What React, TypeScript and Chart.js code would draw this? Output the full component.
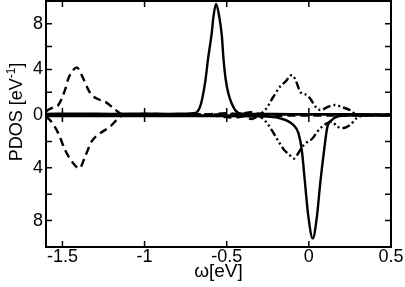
import { useEffect, useRef } from 'react';
import { Chart, registerables } from 'chart.js';

Chart.register(...registerables);

// ---- axis ticks ----
const X_TICKS = [-1.5, -1, -0.5, 0, 0.5];
const X_TICK_LABELS = ['-1.5', '-1', '-0.5', '0', '0.5'];
const Y_TOP_LABELS = [0, 4, 8];
const Y_BOT_LABELS = [4, 8];
const Y_MINOR = [2, 4, 6, 8];

// ---- spin-up (upper panel) ----
const solidUpX = [-1.6, -1.4, -1.2, -1.0, -0.85, -0.75, -0.703, -0.662, -0.632, -0.612, -0.591, -0.581, -0.565, -0.545, -0.53, -0.52, -0.507, -0.49, -0.449, -0.408, -0.3, -0.1, 0.1, 0.3, 0.5];
const solidUpY = [0.1, 0.12, 0.1, 0.12, 0.1, 0.12, 0.15, 0.73, 2.8, 5.1, 7.2, 8.6, 9.75, 8.6, 7.0, 5.0, 3.2, 1.9, 0.44, 0.12, 0.1, 0.08, 0.08, 0.06, 0.05];

const dashUpX = [-1.6, -1.58, -1.55, -1.525, -1.484, -1.464, -1.434, -1.413, -1.383, -1.342, -1.322, -1.281, -1.241, -1.2, -1.149, -1.12, -1.0, -0.8, -0.6, -0.5, -0.42, -0.35, -0.3, -0.2, 0.0, 0.3, 0.5];
const dashUpY = [0.3, 0.5, 0.7, 0.88, 2.2, 3.2, 3.95, 4.18, 3.5, 2.2, 1.75, 1.38, 1.17, 0.73, 0.15, 0.05, 0.1, 0.05, 0.08, 0.15, 0.1, 0.25, 0.1, 0.05, 0.05, 0.03, 0.02];

const ddotUpX = [-1.6, -1.0, -0.5, -0.3, -0.266, -0.216, -0.175, -0.144, -0.104, -0.085, -0.053, -0.035, -0.01, 0.01, 0.04, 0.07, 0.12, 0.16, 0.2, 0.25, 0.29, 0.35, 0.5];
const ddotUpY = [0.03, 0.03, 0.05, 0.1, 0.44, 1.6, 2.5, 2.9, 3.5, 3.2, 2.05, 1.85, 1.75, 1.4, 0.73, 0.44, 0.73, 0.88, 0.7, 0.44, 0.05, 0.02, 0.02];

// ---- spin-down (lower panel, plotted downward) ----
const solidDnX = [-1.6, -1.2, -0.8, -0.5, -0.3, -0.25, -0.175, -0.094, -0.063, -0.043, -0.023, -0.003, 0.024, 0.049, 0.069, 0.093, 0.113, 0.14, 0.17, 0.25, 0.5];
const solidDnY = [0.08, 0.08, 0.08, 0.08, 0.1, 0.12, 0.25, 0.76, 1.39, 2.65, 5.2, 7.7, 9.35, 7.7, 5.2, 2.65, 0.88, 0.38, 0.13, 0.05, 0.05];

const dashDnX = [-1.6, -1.576, -1.525, -1.484, -1.434, -1.397, -1.362, -1.322, -1.271, -1.21, -1.16, -1.129, -1.0, -0.8, -0.6, -0.45, -0.4, -0.35, -0.3, -0.1, 0.2, 0.5];
const dashDnY = [0.15, 0.38, 1.39, 2.65, 3.66, 4.04, 3.15, 2.0, 1.39, 0.88, 0.25, 0.0, 0.05, 0.05, 0.05, 0.2, 0.1, 0.3, 0.08, 0.05, 0.03, 0.02];

const ddotDnX = [-1.6, -1.0, -0.5, -0.32, -0.271, -0.22, -0.19, -0.15, -0.12, -0.09, -0.06, -0.04, -0.01, 0.02, 0.05, 0.07, 0.11, 0.14, 0.17, 0.2, 0.25, 0.29, 0.33, 0.5];
const ddotDnY = [0.03, 0.03, 0.03, 0.02, 0.38, 1.26, 1.9, 2.65, 3.0, 3.3, 2.8, 2.4, 2.05, 1.8, 1.3, 1.0, 0.63, 0.5, 0.85, 1.0, 0.76, 0.25, 0.05, 0.02];

const FONT = '"Liberation Sans", Arial, Helvetica, sans-serif';

function pts(xs: number[], ys: number[]) {
  return xs.map((x, i) => ({ x, y: ys[i] }));
}

const DASH = [8, 5];
const DDOT = [8, 3, 2, 3, 2, 3];

const zeroPad = (s: any) => {
  s.paddingTop = 0;
  s.paddingBottom = 0;
  s.paddingLeft = 0;
  s.paddingRight = 0;
};

const framePlugin = {
  id: 'frame',
  afterDatasetsDraw(chart: any) {
    const { ctx, chartArea } = chart;
    const { left, right, top, bottom } = chartArea;
    const xs = chart.scales.x;
    const yt = chart.scales.yTop;
    const yb = chart.scales.yBot;
    const zero = yt.getPixelForValue(0);
    const L = 6;
    ctx.save();
    ctx.strokeStyle = '#000';
    ctx.lineWidth = 1.6;
    ctx.beginPath();
    ctx.moveTo(left, zero);
    ctx.lineTo(right, zero);
    ctx.stroke();
    ctx.lineWidth = 1.5;
    ctx.beginPath();
    for (const v of X_TICKS) {
      const px = xs.getPixelForValue(v);
      ctx.moveTo(px, top); ctx.lineTo(px, top + L);
      ctx.moveTo(px, bottom); ctx.lineTo(px, bottom - L);
      ctx.moveTo(px, zero - L - 1); ctx.lineTo(px, zero + L + 1);
    }
    for (const v of Y_MINOR) {
      const p1 = yt.getPixelForValue(v);
      const p2 = yb.getPixelForValue(v);
      ctx.moveTo(left, p1); ctx.lineTo(left + L, p1);
      ctx.moveTo(right, p1); ctx.lineTo(right - L, p1);
      ctx.moveTo(left, p2); ctx.lineTo(left + L, p2);
      ctx.moveTo(right, p2); ctx.lineTo(right - L, p2);
    }
    ctx.stroke();
    ctx.lineWidth = 2;
    ctx.strokeRect(left, top, right - left, bottom - top);
    ctx.restore();
  },
  afterDraw(chart: any) {
    const { ctx, chartArea } = chart;
    ctx.save();
    ctx.fillStyle = '#000';
    // x title
    ctx.font = `19px ${FONT}`;
    ctx.textAlign = 'center';
    ctx.textBaseline = 'alphabetic';
    ctx.fillText('ω[eV]', (chartArea.left + chartArea.right) / 2, 277);
    // y title with superscript
    const main1 = 'PDOS [eV';
    const sup = '-1';
    const main2 = ']';
    ctx.font = `18px ${FONT}`;
    const w1 = ctx.measureText(main1).width;
    const w3 = ctx.measureText(main2).width;
    ctx.font = `12px ${FONT}`;
    const w2 = ctx.measureText(sup).width;
    const total = w1 + w2 + w3;
    ctx.translate(22, 112);
    ctx.rotate(-Math.PI / 2);
    ctx.textAlign = 'left';
    let x0 = -total / 2;
    ctx.font = `18px ${FONT}`;
    ctx.fillText(main1, x0, 0);
    x0 += w1;
    ctx.font = `12px ${FONT}`;
    ctx.fillText(sup, x0, -7);
    x0 += w2;
    ctx.font = `18px ${FONT}`;
    ctx.fillText(main2, x0, 0);
    ctx.restore();
  },
};

export default function App() {
  const ref = useRef<HTMLCanvasElement>(null);
  useEffect(() => {
    const canvas = ref.current;
    if (!canvas) return;
    const common = {
      borderColor: '#000',
      borderWidth: 2.4,
      pointRadius: 0,
      fill: false,
      cubicInterpolationMode: 'monotone' as const,
    };
    const chart = new Chart(canvas, {
      type: 'line',
      data: {
        datasets: [
          { ...common, data: pts(dashUpX, dashUpY), yAxisID: 'yTop', borderDash: DASH },
          { ...common, data: pts(ddotUpX, ddotUpY), yAxisID: 'yTop', borderDash: DDOT },
          { ...common, data: pts(solidUpX, solidUpY), yAxisID: 'yTop' },
          { ...common, data: pts(dashDnX, dashDnY), yAxisID: 'yBot', borderDash: DASH },
          { ...common, data: pts(ddotDnX, ddotDnY), yAxisID: 'yBot', borderDash: DDOT },
          { ...common, data: pts(solidDnX, solidDnY), yAxisID: 'yBot' },
        ] as any,
      },
      options: {
        animation: false,
        responsive: false,
        devicePixelRatio: 1,
        events: [],
        layout: { padding: { top: 1, right: 14, left: 0, bottom: 0 } },
        plugins: { legend: { display: false }, tooltip: { enabled: false } },
        scales: {
          x: {
            type: 'linear',
            min: -1.6,
            max: 0.5,
            position: 'bottom',
            grid: { display: false, drawTicks: false },
            border: { display: false },
            afterBuildTicks: (s: any) => { s.ticks = X_TICKS.map((v) => ({ value: v })); },
            afterFit: (s: any) => { s.height = 40; zeroPad(s); },
            ticks: {
              color: '#000',
              font: { family: FONT, size: 18 },
              padding: -1,
              maxRotation: 0,
              autoSkip: false,
              callback: (v: any) => X_TICK_LABELS[X_TICKS.indexOf(Number(v))] ?? '',
            },
          },
          yTop: {
            type: 'linear',
            position: 'left',
            stack: 'pdos',
            stackWeight: 114,
            weight: 2,
            min: 0,
            max: 10,
            grid: { display: false, drawTicks: false },
            border: { display: false },
            afterBuildTicks: (s: any) => { s.ticks = Y_TOP_LABELS.map((v) => ({ value: v })); },
            afterFit: (s: any) => { s.width = 46; zeroPad(s); },
            ticks: { color: '#000', font: { family: FONT, size: 18 }, padding: 3, callback: (v: any) => String(v) },
          },
          yBot: {
            type: 'linear',
            position: 'left',
            stack: 'pdos',
            stackWeight: 132,
            weight: 1,
            min: 0,
            max: 10,
            reverse: true,
            grid: { display: false, drawTicks: false },
            border: { display: false },
            afterBuildTicks: (s: any) => { s.ticks = Y_BOT_LABELS.map((v) => ({ value: v })); },
            afterFit: (s: any) => { s.width = 46; zeroPad(s); },
            ticks: { color: '#000', font: { family: FONT, size: 18 }, padding: 3, callback: (v: any) => String(v) },
          },
        },
      } as any,
      plugins: [framePlugin],
    });
    return () => chart.destroy();
  }, []);
  return (
    <div style={{ position: 'fixed', left: 0, top: 0, width: 405, height: 287, background: '#fff' }}>
      <canvas ref={ref} width={405} height={287} style={{ display: 'block' }} />
    </div>
  );
}
